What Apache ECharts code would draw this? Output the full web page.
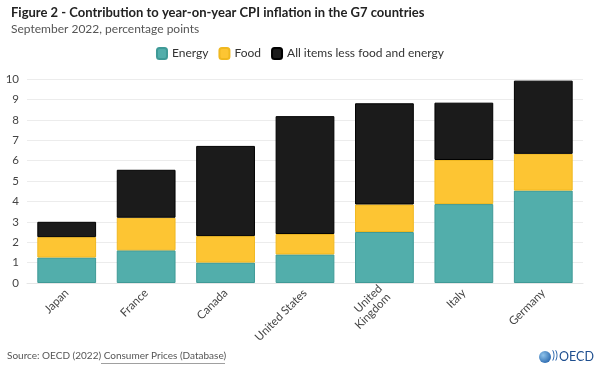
<!DOCTYPE html>
<html>
<head>
<meta charset="utf-8">
<script src="https://cdn.jsdelivr.net/npm/echarts@6/dist/echarts.min.js"></script>
<style>
  html, body { margin: 0; padding: 0; background: #fff; }
  #chart { width: 600px; height: 376px; }
</style>
</head>
<body>
<div id="chart"></div>
<script>
const countries = ['Japan', 'France', 'Canada', 'United States', 'United\nKingdom', 'Italy', 'Germany']
const energy = [1.25, 1.6, 1.0, 1.4, 2.5, 3.87, 4.53]
const food = [1.0, 1.6, 1.3, 1.0, 1.35, 2.16, 1.8]
const core = [0.75, 2.35, 4.42, 5.78, 4.96, 2.81, 3.59]
const legendNames = ['Energy', 'Food', 'All items less food and energy']

const FONT = 'Lato'
const chart = echarts.init(document.getElementById('chart'))

function barSeries(name, data, color, border) {
  return {
    name: name,
    type: 'bar',
    stack: 'cpi',
    barWidth: '74%',
    data: data,
    itemStyle: {
      color: color,
      borderColor: border,
      borderWidth: 1
    },
    emphasis: { disabled: true }
  }
}

chart.setOption({
  animation: false,
  textStyle: { fontFamily: FONT },
  title: [{
    text: 'Figure 2 - Contribution to year-on-year CPI inflation in the G7 countries',
    left: 6,
    top: 1,
    textStyle: { fontSize: 13, fontWeight: 'bold', color: '#222', fontFamily: FONT }
  }, {
    text: 'September 2022, percentage points',
    left: 6,
    top: 18,
    textStyle: { fontSize: 12, fontWeight: 'normal', color: '#555', fontFamily: FONT }
  }],
  legend: {
    data: legendNames,
    top: 42,
    left: 'center',
    icon: 'roundRect',
    itemWidth: 10,
    itemHeight: 11,
    itemGap: 10,
    textStyle: { fontSize: 12, color: '#333', fontFamily: FONT }
  },
  grid: {
    top: 79,
    bottom: 93,
    left: 27,
    right: 17
  },
  xAxis: {
    type: 'category',
    data: countries,
    axisLine: { lineStyle: { color: '#e6e6e6' } },
    axisTick: { alignWithLabel: true, length: 4, lineStyle: { color: '#e6e6e6' } },
    axisLabel: {
      rotate: 45,
      interval: 0,
      fontSize: 11.5,
      color: '#444',
      lineHeight: 12,
      margin: 8
    }
  },
  yAxis: {
    type: 'value',
    min: 0,
    max: 10,
    interval: 1,
    axisLine: { show: false },
    axisTick: { show: false },
    splitLine: { lineStyle: { color: '#ececec' } },
    axisLabel: { fontSize: 11.5, color: '#444', margin: 8 }
  },
  series: [
    barSeries(legendNames[0], energy, '#52aeab', '#3f9a97'),
    barSeries(legendNames[1], food, '#fdc533', '#f0b820'),
    barSeries(legendNames[2], core, '#1b1b1b', '#000')
  ],
  graphic: [
    {
      type: 'text',
      left: 7,
      top: 351,
      style: { text: 'Source: OECD (2022) Consumer Prices (Database)', fontSize: 10, fill: '#555', fontFamily: FONT }
    },
    {
      type: 'line',
      shape: { x1: 101, y1: 363.5, x2: 225, y2: 363.5 },
      style: { stroke: '#888', lineWidth: 0.8 }
    },
    {
      type: 'circle',
      shape: { cx: 545, cy: 357, r: 6 },
      style: {
        fill: new echarts.graphic.RadialGradient(0.35, 0.35, 0.8, [
          { offset: 0, color: '#8fc3ea' },
          { offset: 1, color: '#1f5fa8' }
        ])
      }
    },
    {
      type: 'text',
      left: 552,
      top: 350,
      style: { text: '))', fontSize: 11, fill: '#1f5fa8', fontFamily: FONT }
    },
    {
      type: 'text',
      left: 559,
      top: 350,
      style: { text: 'OECD', fontSize: 12.5, fill: '#1f4f8f', fontFamily: FONT }
    }
  ]
})
</script>
</body>
</html>
